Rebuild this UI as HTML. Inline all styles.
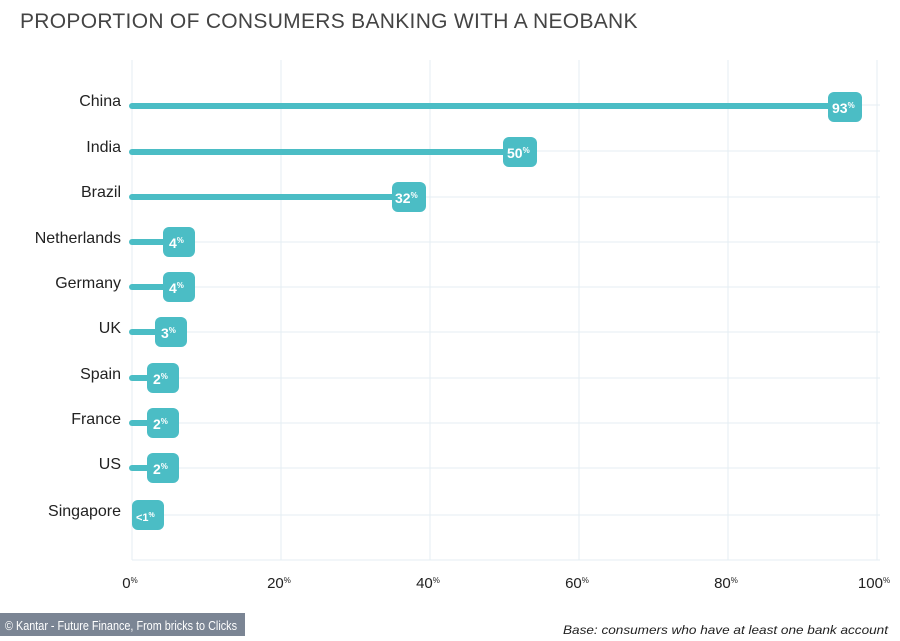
<!DOCTYPE html>
<html><head><style>
body{margin:0;width:900px;height:636px;background:#fff;overflow:hidden;font-family:"Liberation Sans",sans-serif;}
</style></head><body>
<svg width="900" height="636" xmlns="http://www.w3.org/2000/svg">
<text x="20" y="28" font-size="21" fill="#444" font-family="Liberation Sans" letter-spacing="0.3">PROPORTION OF CONSUMERS BANKING WITH A NEOBANK</text>
<g stroke="#e4eef3" stroke-width="1">
<line x1="132" y1="60" x2="132" y2="560"/><line x1="281" y1="60" x2="281" y2="560"/>
<line x1="430" y1="60" x2="430" y2="560"/><line x1="579" y1="60" x2="579" y2="560"/>
<line x1="728" y1="60" x2="728" y2="560"/><line x1="877" y1="60" x2="877" y2="560"/>
<line x1="132" y1="105" x2="880" y2="105"/><line x1="132" y1="151" x2="880" y2="151"/>
<line x1="132" y1="197" x2="880" y2="197"/><line x1="132" y1="242" x2="880" y2="242"/>
<line x1="132" y1="287" x2="880" y2="287"/><line x1="132" y1="332" x2="880" y2="332"/>
<line x1="132" y1="378" x2="880" y2="378"/><line x1="132" y1="423" x2="880" y2="423"/>
<line x1="132" y1="468" x2="880" y2="468"/><line x1="132" y1="515" x2="880" y2="515"/>
<line x1="132" y1="560" x2="880" y2="560"/>
</g>
<g font-size="16" fill="#222" text-anchor="end" font-family="Liberation Sans">
<text x="121" y="106">China</text><text x="121" y="152">India</text><text x="121" y="197">Brazil</text>
<text x="121" y="243">Netherlands</text><text x="121" y="288">Germany</text><text x="121" y="333">UK</text>
<text x="121" y="379">Spain</text><text x="121" y="424">France</text><text x="121" y="469">US</text>
<text x="121" y="516">Singapore</text>
</g>
<g stroke="#4bbdc5" stroke-width="6" stroke-linecap="round">
<line x1="132" y1="106" x2="840" y2="106"/><line x1="132" y1="152" x2="515" y2="152"/>
<line x1="132" y1="197" x2="400" y2="197"/><line x1="132" y1="242" x2="170" y2="242"/>
<line x1="132" y1="287" x2="170" y2="287"/><line x1="132" y1="332" x2="165" y2="332"/>
<line x1="132" y1="378" x2="155" y2="378"/><line x1="132" y1="423" x2="155" y2="423"/>
<line x1="132" y1="468" x2="155" y2="468"/>
</g>
<g fill="#4bbdc5">
<rect x="828" y="92" width="34" height="30" rx="6"/><rect x="503" y="137" width="34" height="30" rx="6"/>
<rect x="392" y="182" width="34" height="30" rx="6"/><rect x="163" y="227" width="32" height="30" rx="6"/>
<rect x="163" y="272" width="32" height="30" rx="6"/><rect x="155" y="317" width="32" height="30" rx="6"/>
<rect x="147" y="363" width="32" height="30" rx="6"/><rect x="147" y="408" width="32" height="30" rx="6"/>
<rect x="147" y="453" width="32" height="30" rx="6"/><rect x="132" y="500" width="32" height="30" rx="6"/>
</g>
<g fill="#fff" font-size="14" font-weight="bold" font-family="Liberation Sans">
<text x="832" y="113">93<tspan font-size="8" dy="-5">%</tspan></text>
<text x="507" y="158">50<tspan font-size="8" dy="-5">%</tspan></text>
<text x="395" y="203">32<tspan font-size="8" dy="-5">%</tspan></text>
<text x="169" y="248">4<tspan font-size="8" dy="-5">%</tspan></text>
<text x="169" y="293">4<tspan font-size="8" dy="-5">%</tspan></text>
<text x="161" y="338">3<tspan font-size="8" dy="-5">%</tspan></text>
<text x="153" y="384">2<tspan font-size="8" dy="-5">%</tspan></text>
<text x="153" y="429">2<tspan font-size="8" dy="-5">%</tspan></text>
<text x="153" y="474">2<tspan font-size="8" dy="-5">%</tspan></text>
<text x="136" y="521" font-size="11">&lt;1<tspan font-size="7" dy="-4">%</tspan></text>
</g>
<g font-size="15" fill="#222" text-anchor="middle" font-family="Liberation Sans">
<text x="130" y="588">0<tspan font-size="8" dy="-5">%</tspan></text>
<text x="279" y="588">20<tspan font-size="8" dy="-5">%</tspan></text>
<text x="428" y="588">40<tspan font-size="8" dy="-5">%</tspan></text>
<text x="577" y="588">60<tspan font-size="8" dy="-5">%</tspan></text>
<text x="726" y="588">80<tspan font-size="8" dy="-5">%</tspan></text>
<text x="874" y="588">100<tspan font-size="8" dy="-5">%</tspan></text>
</g>
<rect x="0" y="613" width="245" height="23" fill="#7b8594"/>
<text x="5" y="630" font-size="13" fill="#fff" font-family="Liberation Sans Narrow, Liberation Sans" textLength="232" lengthAdjust="spacingAndGlyphs">© Kantar - Future Finance, From bricks to Clicks</text>
<text x="563" y="634" font-size="12" fill="#222" font-style="italic" textLength="325" lengthAdjust="spacingAndGlyphs">Base: consumers who have at least one bank account</text>
</svg>
</body></html>
